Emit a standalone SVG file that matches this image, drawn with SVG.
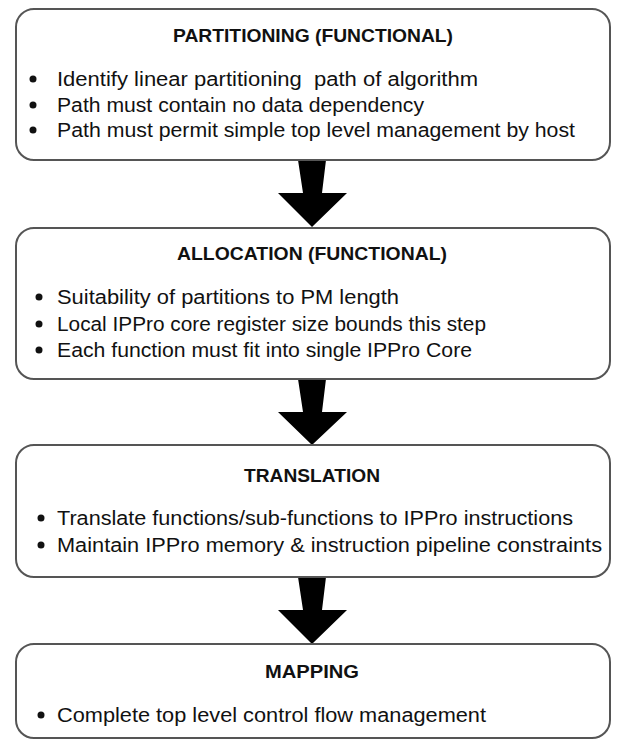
<svg xmlns="http://www.w3.org/2000/svg" width="620" height="740" viewBox="0 0 620 740">
<style>
.box{fill:#fff;stroke:#555;stroke-width:2}
.title{font-family:"Liberation Sans",Arial,sans-serif;font-weight:bold;font-size:18.5px;fill:#111;text-anchor:middle}
.body{font-family:"Liberation Sans",Arial,sans-serif;font-size:20px;fill:#111}
.bul{fill:#111}
.arrow{fill:#000}
</style>
<rect width="620" height="740" fill="#fff"/>
<g id="connectors">
<polygon class="arrow" points="298,160 326,160 322,193 347,193 312,227 278,193 303,193"/>
<polygon class="arrow" points="298,379 326,379 322,412 347,412 312,445 278,412 303,412"/>
<polygon class="arrow" points="298,577 326,577 322,610 347,610 312,644 278,610 303,610"/>
</g>
<g id="partitioning">
<rect class="box" x="16" y="9" width="594" height="151" rx="18"/>
<text class="title" x="313" y="42" textLength="280" lengthAdjust="spacingAndGlyphs">PARTITIONING (FUNCTIONAL)</text>
<circle class="bul" cx="33" cy="79" r="3.5"/>
<circle class="bul" cx="33" cy="105" r="3.5"/>
<circle class="bul" cx="33" cy="130" r="3.5"/>
<text class="body" x="57" y="86" textLength="421" lengthAdjust="spacingAndGlyphs" xml:space="preserve">Identify linear partitioning  path of algorithm</text>
<text class="body" x="57" y="112" textLength="367" lengthAdjust="spacingAndGlyphs">Path must contain no data dependency</text>
<text class="body" x="57" y="137" textLength="518" lengthAdjust="spacingAndGlyphs">Path must permit simple top level management by host</text>
</g>
<g id="allocation">
<rect class="box" x="16" y="228" width="594" height="151" rx="18"/>
<text class="title" x="312" y="260" textLength="270" lengthAdjust="spacingAndGlyphs">ALLOCATION (FUNCTIONAL)</text>
<circle class="bul" cx="39" cy="297" r="3.5"/>
<circle class="bul" cx="39" cy="324" r="3.5"/>
<circle class="bul" cx="39" cy="350" r="3.5"/>
<text class="body" x="57" y="304" textLength="342" lengthAdjust="spacingAndGlyphs">Suitability of partitions to PM length</text>
<text class="body" x="57" y="331" textLength="429" lengthAdjust="spacingAndGlyphs">Local IPPro core register size bounds this step</text>
<text class="body" x="57" y="357" textLength="415" lengthAdjust="spacingAndGlyphs">Each function must fit into single IPPro Core</text>
</g>
<g id="translation">
<rect class="box" x="16" y="445" width="594" height="132" rx="18"/>
<text class="title" x="312" y="482" textLength="136" lengthAdjust="spacingAndGlyphs">TRANSLATION</text>
<circle class="bul" cx="41" cy="518" r="3.5"/>
<circle class="bul" cx="41" cy="545" r="3.5"/>
<text class="body" x="57" y="525" textLength="516" lengthAdjust="spacingAndGlyphs">Translate functions/sub-functions to IPPro instructions</text>
<text class="body" x="57" y="552" textLength="545" lengthAdjust="spacingAndGlyphs">Maintain IPPro memory &amp; instruction pipeline constraints</text>
</g>
<g id="mapping">
<rect class="box" x="16" y="644" width="594" height="94" rx="18"/>
<text class="title" x="312" y="678" textLength="94" lengthAdjust="spacingAndGlyphs">MAPPING</text>
<circle class="bul" cx="41" cy="715" r="3.5"/>
<text class="body" x="57" y="722" textLength="429" lengthAdjust="spacingAndGlyphs">Complete top level control flow management</text>
</g>
</svg>
